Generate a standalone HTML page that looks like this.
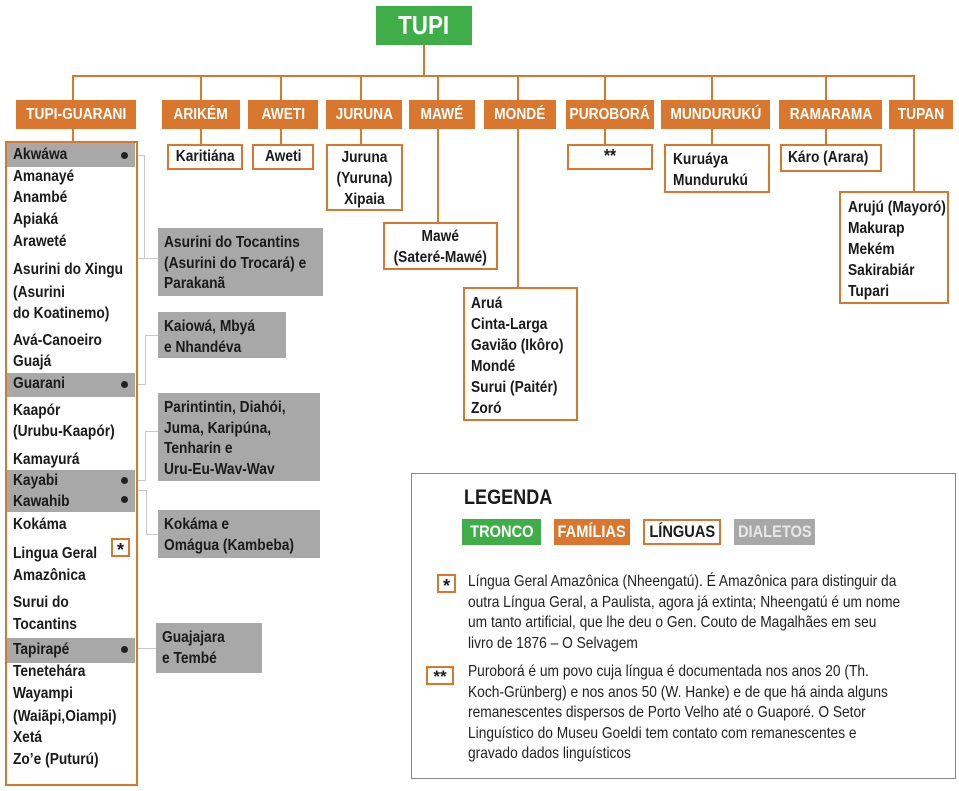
<!DOCTYPE html>
<html><head><meta charset="utf-8"><style>
*{margin:0;padding:0;box-sizing:border-box}
body{width:959px;height:791px;background:#fff;position:relative;overflow:hidden;font-family:"Liberation Sans",sans-serif;font-weight:bold;color:#1a1a1a}
.a{position:absolute}
.s{display:inline-block;white-space:nowrap;transform:scaleX(.86);transform-origin:left top}
.c{display:inline-block;white-space:nowrap;transform:scaleX(.86);transform-origin:center top;text-align:center}
.fam{position:absolute;background:#d8772d;color:#fff;font-size:16px;line-height:29px;height:29px;top:100px;display:flex;justify-content:center}
.lang{position:absolute;border:2px solid #d8772d;background:#fff;font-size:16px;line-height:21px}
.cen{display:flex;justify-content:center}
.dia{position:absolute;background:#a8a8a8;font-size:16px;line-height:20.5px;padding:5px 6px}
.ln{position:absolute;background:#d8772d}
.g{position:absolute;border-color:#c8c8c8;border-style:solid;border-width:0}
.t{position:absolute;left:13px;font-size:16px;line-height:20px;white-space:nowrap;transform:scaleX(.86);transform-origin:left top}
.hl{position:absolute;left:7px;width:128px;background:#a8a8a8}
.dot{position:absolute;left:121px;width:7px;height:7px;border-radius:50%;background:#222}
.lg{font-weight:normal;font-size:16px;line-height:20.5px;color:#222;white-space:nowrap;transform:scaleX(.86);transform-origin:left top}
</style></head><body>
<div class="a" style="left:376px;top:6px;width:96px;height:39px;background:#3fae49;color:#fff;font-size:26px;display:flex;justify-content:center;line-height:39px"><span class="c">TUPI</span></div>
<div class="ln" style="left:423px;top:45px;width:2px;height:32px"></div>
<div class="ln" style="left:72px;top:75px;width:843px;height:2px"></div>
<div class="ln" style="left:72px;top:75px;width:2px;height:25px"></div>
<div class="ln" style="left:200px;top:75px;width:2px;height:25px"></div>
<div class="ln" style="left:280px;top:75px;width:2px;height:25px"></div>
<div class="ln" style="left:360px;top:75px;width:2px;height:25px"></div>
<div class="ln" style="left:437px;top:75px;width:2px;height:25px"></div>
<div class="ln" style="left:517px;top:75px;width:2px;height:25px"></div>
<div class="ln" style="left:604px;top:75px;width:2px;height:25px"></div>
<div class="ln" style="left:711px;top:75px;width:2px;height:25px"></div>
<div class="ln" style="left:825px;top:75px;width:2px;height:25px"></div>
<div class="ln" style="left:913px;top:75px;width:2px;height:25px"></div>

<div class="fam" style="left:16px;width:120px"><span class="c">TUPI-GUARANI</span></div>
<div class="fam" style="left:162px;width:78px"><span class="c">ARIKÉM</span></div>
<div class="fam" style="left:248px;width:70px"><span class="c">AWETI</span></div>
<div class="fam" style="left:326px;width:76px"><span class="c">JURUNA</span></div>
<div class="fam" style="left:409px;width:66px"><span class="c">MAWÉ</span></div>
<div class="fam" style="left:484px;width:72px"><span class="c">MONDÉ</span></div>
<div class="fam" style="left:566px;width:88px"><span class="c">PUROBORÁ</span></div>
<div class="fam" style="left:661px;width:109px"><span class="c">MUNDURUKÚ</span></div>
<div class="fam" style="left:779px;width:103px"><span class="c">RAMARAMA</span></div>
<div class="fam" style="left:889px;width:64px"><span class="c">TUPAN</span></div>

<div class="ln" style="left:72px;top:129px;width:2px;height:13px"></div>
<div class="ln" style="left:200px;top:129px;width:2px;height:15px"></div>
<div class="ln" style="left:280px;top:129px;width:2px;height:15px"></div>
<div class="ln" style="left:360px;top:129px;width:2px;height:15px"></div>
<div class="ln" style="left:437px;top:129px;width:2px;height:93px"></div>
<div class="ln" style="left:517px;top:129px;width:2px;height:158px"></div>
<div class="ln" style="left:604px;top:129px;width:2px;height:15px"></div>
<div class="ln" style="left:711px;top:129px;width:2px;height:15px"></div>
<div class="ln" style="left:825px;top:129px;width:2px;height:15px"></div>
<div class="ln" style="left:913px;top:129px;width:2px;height:62px"></div>

<div class="lang cen" style="left:167px;top:144px;width:76px;height:26px"><span class="c">Karitiána</span></div>
<div class="lang cen" style="left:252px;top:144px;width:62px;height:26px"><span class="c">Aweti</span></div>
<div class="lang cen" style="left:326px;top:144px;width:77px;height:67px;padding-top:1px"><span class="c">Juruna<br>(Yuruna)<br>Xipaia</span></div>
<div class="lang cen" style="left:383px;top:222px;width:115px;height:48px;padding-top:2px"><span class="c">Mawé<br>(Sateré-Mawé)</span></div>
<div class="lang" style="left:463px;top:287px;width:115px;height:134px;padding:4px 0 0 6px"><span class="s">Aruá<br>Cinta-Larga<br>Gavião (Ikôro)<br>Mondé<br>Surui (Paitér)<br>Zoró</span></div>
<div class="lang cen" style="left:567px;top:144px;width:86px;height:26px;font-size:18px"><span class="c">**</span></div>
<div class="lang" style="left:664px;top:144px;width:106px;height:49px;padding:3px 0 0 7px"><span class="s">Kuruáya<br>Mundurukú</span></div>
<div class="lang" style="left:780px;top:144px;width:102px;height:28px;padding:1px 0 0 6px"><span class="s">Káro (Arara)</span></div>
<div class="lang" style="left:839px;top:191px;width:110px;height:113px;padding:4px 0 0 7px"><span class="s">Arujú (Mayoró)<br>Makurap<br>Mekém<br>Sakirabiár<br>Tupari</span></div>

<div class="a" style="left:5px;top:141px;width:133px;height:645px;border:2px solid #d8772d"></div>
<div class="hl" style="top:143px;height:24px"></div>
<div class="hl" style="top:373px;height:24px"></div>
<div class="hl" style="top:470px;height:42px"></div>
<div class="hl" style="top:638px;height:25px"></div>
<div class="dot" style="top:152px"></div>
<div class="dot" style="top:381px"></div>
<div class="dot" style="top:477px"></div>
<div class="dot" style="top:496px"></div>
<div class="dot" style="top:646px"></div>
<div class="a" style="left:111px;top:538px;width:19px;height:19px;border:2px solid #d8772d;text-align:center;font-size:18px;line-height:20px">*</div>
<div class="t" style="top:145px">Akwáwa</div>
<div class="t" style="top:167px">Amanayé</div>
<div class="t" style="top:188px">Anambé</div>
<div class="t" style="top:210px">Apiaká</div>
<div class="t" style="top:232px">Araweté</div>
<div class="t" style="top:260px">Asurini do Xingu</div>
<div class="t" style="top:283px">(Asurini</div>
<div class="t" style="top:304px">do Koatinemo)</div>
<div class="t" style="top:331px">Avá-Canoeiro</div>
<div class="t" style="top:352px">Guajá</div>
<div class="t" style="top:374px">Guarani</div>
<div class="t" style="top:401px">Kaapór</div>
<div class="t" style="top:422px">(Urubu-Kaapór)</div>
<div class="t" style="top:450px">Kamayurá</div>
<div class="t" style="top:471px">Kayabi</div>
<div class="t" style="top:492px">Kawahib</div>
<div class="t" style="top:515px">Kokáma</div>
<div class="t" style="top:544px">Lingua Geral</div>
<div class="t" style="top:566px">Amazônica</div>
<div class="t" style="top:593px">Surui do</div>
<div class="t" style="top:615px">Tocantins</div>
<div class="t" style="top:640px">Tapirapé</div>
<div class="t" style="top:662px">Tenetehára</div>
<div class="t" style="top:684px">Wayampi</div>
<div class="t" style="top:707px">(Waiãpi,Oiampi)</div>
<div class="t" style="top:728px">Xetá</div>
<div class="t" style="top:750px">Zo’e (Puturú)</div>

<div class="g" style="left:138px;top:155px;width:7px;height:104px;border-top-width:1px;border-right-width:1px;border-bottom-width:1px"></div>
<div class="g" style="left:145px;top:258px;width:13px;height:1px;border-top-width:1px"></div>
<div class="g" style="left:138px;top:335px;width:8px;height:50px;border-right-width:1px;border-bottom-width:1px"></div>
<div class="g" style="left:145px;top:335px;width:13px;height:1px;border-top-width:1px"></div>
<div class="g" style="left:138px;top:431px;width:8px;height:50px;border-right-width:1px;border-bottom-width:1px"></div>
<div class="g" style="left:145px;top:431px;width:13px;height:1px;border-top-width:1px"></div>
<div class="g" style="left:138px;top:490px;width:9px;height:45px;border-top-width:1px;border-right-width:1px"></div>
<div class="g" style="left:147px;top:534px;width:11px;height:1px;border-top-width:1px"></div>
<div class="g" style="left:138px;top:648px;width:18px;height:1px;border-top-width:1px"></div>

<div class="dia" style="left:158px;top:228px;width:165px;height:68px"><span class="s">Asurini do Tocantins<br>(Asurini do Trocará) e<br>Parakanã</span></div>
<div class="dia" style="left:158px;top:312px;width:128px;height:46px"><span class="s">Kaiowá, Mbyá<br>e Nhandéva</span></div>
<div class="dia" style="left:158px;top:393px;width:162px;height:88px"><span class="s">Parintintin, Diahói,<br>Juma, Karipúna,<br>Tenharin e<br>Uru-Eu-Wav-Wav</span></div>
<div class="dia" style="left:158px;top:510px;width:162px;height:48px"><span class="s">Kokáma e<br>Omágua (Kambeba)</span></div>
<div class="dia" style="left:156px;top:623px;width:106px;height:50px"><span class="s">Guajajara<br>e Tembé</span></div>

<div class="a" style="left:411px;top:473px;width:545px;height:306px;border:1px solid #888"></div>
<div class="a" style="left:464px;top:486px;font-size:21px"><span class="s">LEGENDA</span></div>
<div class="a" style="left:462px;top:519px;width:79px;height:26px;background:#3fae49;color:#fff;font-size:17px;display:flex;justify-content:center;line-height:26px"><span class="c">TRONCO</span></div>
<div class="a" style="left:554px;top:519px;width:76px;height:26px;background:#d8772d;color:#fff;font-size:17px;display:flex;justify-content:center;line-height:26px"><span class="c">FAMÍLIAS</span></div>
<div class="a" style="left:643px;top:519px;width:78px;height:26px;border:2px solid #d8772d;font-size:17px;display:flex;justify-content:center;line-height:22px"><span class="c">LÍNGUAS</span></div>
<div class="a" style="left:734px;top:519px;width:81px;height:26px;background:#a8a8a8;color:#e8e8e8;font-size:17px;display:flex;justify-content:center;line-height:26px"><span class="c">DIALETOS</span></div>
<div class="a" style="left:437px;top:574px;width:19px;height:19px;border:2px solid #d8772d;text-align:center;font-size:18px;line-height:20px">*</div>
<div class="a lg" style="left:468px;top:572px">Língua Geral Amazônica (Nheengatú). É Amazônica para distinguir da<br>outra Língua Geral, a Paulista, agora já extinta; Nheengatú é um nome<br>um tanto artificial, que lhe deu o Gen. Couto de Magalhães em seu<br>livro de 1876 – O Selvagem</div>
<div class="a" style="left:426px;top:666px;width:28px;height:19px;border:2px solid #d8772d;text-align:center;font-size:17px;line-height:18px">**</div>
<div class="a lg" style="left:468px;top:662px">Puroborá é um povo cuja língua é documentada nos anos 20 (Th.<br>Koch-Grünberg) e nos anos 50 (W. Hanke) e de que há ainda alguns<br>remanescentes dispersos de Porto Velho até o Guaporé. O Setor<br>Linguístico do Museu Goeldi tem contato com remanescentes e<br>gravado dados linguísticos</div>
</body></html>
